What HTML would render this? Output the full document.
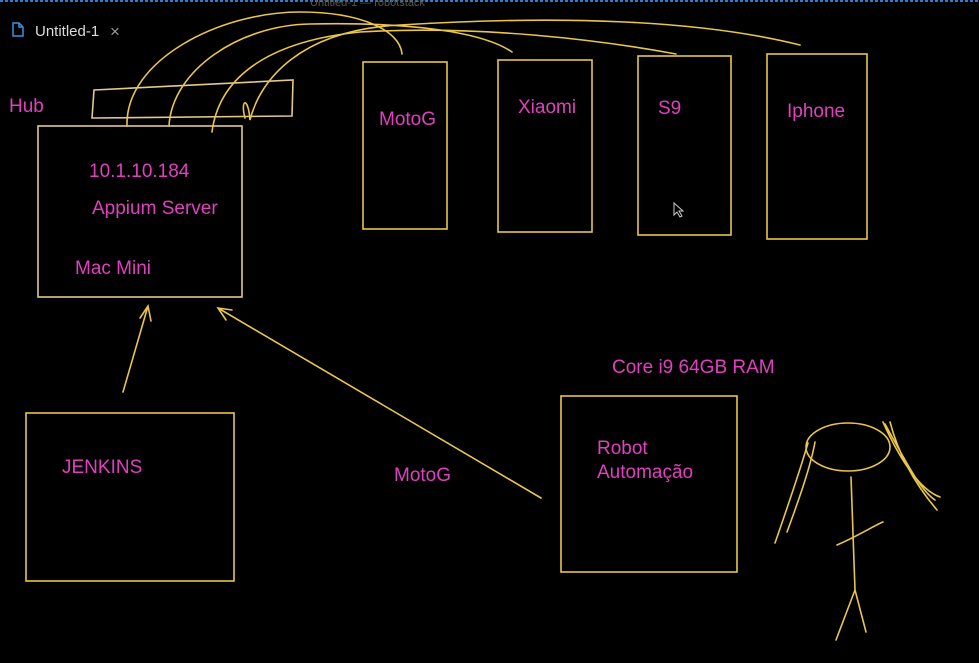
<!DOCTYPE html>
<html><head><meta charset="utf-8"><style>
html,body{margin:0;padding:0;background:#000;width:979px;height:663px;overflow:hidden}
svg{display:block}
text{font-family:"Liberation Sans",sans-serif}
</style></head><body>
<svg width="979" height="663" viewBox="0 0 979 663">
<line x1="0" y1="1" x2="979" y2="1" stroke="#2a7fd0" stroke-width="2" stroke-dasharray="3 2"/>
<text x="310" y="6" fill="#555" font-size="11">Untitled-1 — robotstack</text>
<path d="M13 23h6l4 4v9h-10z M19 23v4h4" fill="none" stroke="#3b8fe0" stroke-width="1.5"/>
<text x="35" y="36" fill="#ddd" font-size="15">Untitled-1</text>
<text x="110" y="37" fill="#999" font-size="17">×</text>
<g fill="none" stroke="#e9c64a" stroke-width="1.6" stroke-linecap="round">
<path d="M94 90 L293 80 L292 116 L92 118 Z" stroke="#e2c98e"/>
<rect x="38" y="126" width="204" height="171" stroke="#e2c98e"/>
<rect x="26" y="413" width="208" height="168"/>
<rect x="561" y="396" width="176" height="176"/>
<rect x="363" y="62" width="84" height="167"/>
<rect x="498" y="60" width="94" height="172"/>
<rect x="638" y="56" width="93" height="179"/>
<rect x="767" y="54" width="100" height="185"/>
<path d="M127 126 C125 60 220 12 300 12 C360 12 400 30 402 54"/>
<path d="M169 126 C172 70 240 25 310 24 C400 22 480 30 512 52"/>
<path d="M212 132 C220 70 280 40 360 32 C480 25 600 40 676 54"/>
<path d="M245 118 C240 100 248 95 250 120 C260 80 300 30 400 25 C560 15 700 20 800 45"/>
<path d="M123 392 L148 306 M140 318 L148 306 L151 321"/>
<path d="M541 498 L218 308 M232 310 L218 308 L226 320"/>
<ellipse cx="848" cy="447" rx="42" ry="24"/>
<path d="M808 443 C800 470 790 500 775 543 M815 442 C810 470 795 510 787 532"/>
<path d="M883 422 C900 460 920 490 940 497 M890 422 C900 460 920 490 937 510 M885 424 C905 460 920 490 935 500"/>
<path d="M851 477 L855 590 M837 545 C860 535 875 525 883 522 M855 590 L836 640 M855 590 L866 632"/>
</g>
<g fill="#e040c0" font-size="19">
<text x="9" y="112">Hub</text>
<text x="89" y="177">10.1.10.184</text>
<text x="92" y="214">Appium Server</text>
<text x="75" y="274">Mac Mini</text>
<text x="62" y="473">JENKINS</text>
<text x="394" y="481">MotoG</text>
<text x="612" y="373">Core i9 64GB RAM</text>
<text x="597" y="454">Robot</text>
<text x="597" y="478">Automação</text>
<text x="379" y="125">MotoG</text>
<text x="518" y="113">Xiaomi</text>
<text x="658" y="114">S9</text>
<text x="787" y="117">Iphone</text>
</g>
<path d="M674 203 L674 215 L677 212 L680 217 L682 216 L679 211 L683 211 Z" fill="#000" stroke="#ccc" stroke-width="1"/>
</svg>
</body></html>
